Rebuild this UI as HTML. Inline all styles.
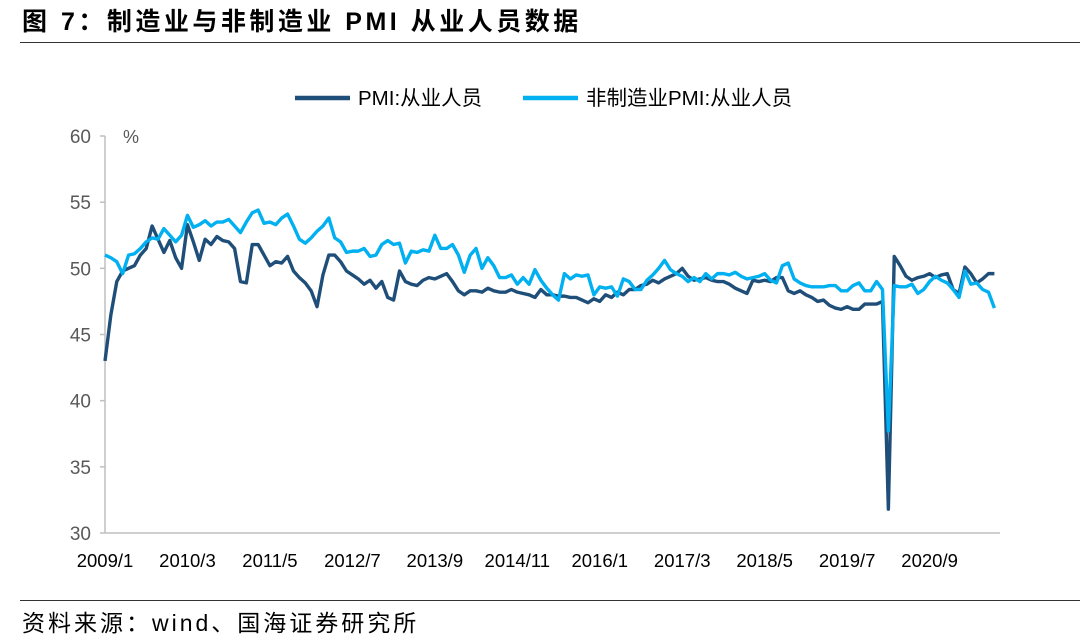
<!DOCTYPE html>
<html><head><meta charset="utf-8">
<style>
body{margin:0;width:1080px;height:637px;background:#fff;overflow:hidden;font-family:"Liberation Sans","Noto Sans CJK SC",sans-serif;}
#title{position:absolute;left:22px;top:2px;font-size:25px;font-weight:bold;color:#000;letter-spacing:3.5px;white-space:nowrap}
#rule{position:absolute;left:20px;top:42px;width:1060px;height:1px;background:#333}
#src-rule{position:absolute;left:20px;top:600px;width:1060px;height:1px;background:#333}
#src{position:absolute;left:22px;top:604px;font-size:23px;color:#000;letter-spacing:3px;white-space:nowrap}
svg{position:absolute;left:0;top:0}
</style></head><body>
<div id="title">图 7：制造业与非制造业 PMI 从业人员数据</div>
<div id="rule"></div>
<svg id="chart" width="1080" height="637"></svg>
<div id="src-rule"></div>
<div id="src">资料来源：wind、国海证券研究所</div>
<script>
const xLabels=["2009/1","2010/3","2011/5","2012/7","2013/9","2014/11","2016/1","2017/3","2018/5","2019/7","2020/9"];
const yTicks=[30,35,40,45,50,55,60];
const seriesNames=["PMI:从业人员","非制造业PMI:从业人员"];
const mfg=[43.0,46.5,49.0,49.8,50.0,50.2,51.0,51.5,53.2,52.2,51.2,52.1,
50.8,50.0,53.3,52.0,50.6,52.2,51.8,52.4,52.1,52.0,51.5,49.0,
48.9,51.8,51.8,51.0,50.2,50.5,50.4,50.9,49.8,49.3,48.9,48.3,
47.1,49.5,51.0,51.0,50.5,49.8,49.5,49.2,48.8,49.1,48.5,49.0,
47.8,47.6,49.8,49.0,48.8,48.7,49.1,49.3,49.2,49.4,49.6,49.0,
48.3,48.0,48.3,48.3,48.2,48.5,48.3,48.2,48.2,48.4,48.2,48.1,
48.0,47.8,48.4,48.0,48.0,47.9,47.9,47.8,47.8,47.6,47.4,47.7,
47.5,48.0,47.8,48.2,48.0,48.4,48.4,48.7,48.8,49.1,48.9,49.2,
49.4,49.6,50.0,49.4,49.1,49.2,49.3,49.1,49.0,49.0,48.8,48.5,
48.3,48.1,49.1,49.0,49.1,49.0,49.3,49.3,48.3,48.1,48.3,48.0,
47.8,47.5,47.6,47.2,47.0,46.9,47.1,46.9,46.9,47.3,47.3,47.3,
47.5,31.8,50.9,50.2,49.4,49.1,49.3,49.4,49.6,49.3,49.5,49.6,
48.4,48.1,50.1,49.6,48.9,49.2,49.6,49.6];
const nonMfg=[51.0,50.8,50.5,49.6,51.0,51.1,51.5,52.0,52.3,52.2,53.0,52.5,
52.0,52.5,54.0,53.1,53.3,53.6,53.2,53.5,53.5,53.7,53.2,52.7,
53.5,54.2,54.4,53.4,53.5,53.3,53.8,54.1,53.2,52.2,51.9,52.3,
52.8,53.2,53.8,52.3,52.0,51.2,51.3,51.3,51.5,50.9,51.0,51.8,
52.1,51.8,51.9,50.4,51.3,51.2,51.4,51.3,52.5,51.5,51.5,51.8,
51.0,49.7,51.0,51.5,50.0,50.8,50.2,49.3,49.3,49.5,48.8,49.3,
48.8,49.9,49.1,48.5,48.0,47.6,49.6,49.2,49.5,49.4,49.5,48.0,
48.6,48.5,48.6,47.9,49.2,49.0,48.4,48.4,49.1,49.5,50.0,50.6,
49.9,49.6,49.4,49.0,49.3,49.0,49.6,49.2,49.6,49.6,49.5,49.7,
49.4,49.2,49.3,49.4,49.6,49.1,48.9,50.2,50.4,49.2,48.9,48.7,
48.6,48.6,48.6,48.7,48.7,48.3,48.3,48.7,48.9,48.3,48.3,49.0,
48.4,37.7,48.7,48.6,48.6,48.8,48.1,48.4,49.0,49.4,49.1,48.9,
48.4,47.8,49.8,48.8,48.9,48.4,48.2,47.0];
const colors=["#1f4e79","#00b0f0"];
const svg=document.getElementById('chart');
const NS="http://www.w3.org/2000/svg";
const X0=105,DX=5.89,Y0=533,Y1=136,VMIN=30,VMAX=60;
const x=i=>X0+i*DX;
const y=v=>Y0-(v-VMIN)/(VMAX-VMIN)*(Y0-Y1);
function mk(t,a){const e=document.createElementNS(NS,t);for(const k in a)e.setAttribute(k,a[k]);svg.appendChild(e);return e;}
const axis=mk('line',{x1:X0,y1:Y1,x2:X0,y2:Y0,stroke:'#bfbfbf','stroke-width':1.5});


const xaxis=mk('line',{x1:X0,y1:Y0,x2:1000,y2:Y0,stroke:'#bfbfbf','stroke-width':1.5});


yTicks.forEach(v=>{
 const tk=mk('line',{x1:X0-5,y1:y(v),x2:X0,y2:y(v),stroke:'#bfbfbf','stroke-width':1.5});
 
 
 const t=mk('text',{x:91,y:y(v)+7,'text-anchor':'end','font-size':19,fill:'#595959'});
 t.textContent=v;
 
 
});
const pct=mk('text',{x:123,y:143,'font-size':18,fill:'#595959'});pct.textContent='%';


xLabels.forEach((l,k)=>{
 const t=mk('text',{x:x(k*14),y:567,'text-anchor':'middle','font-size':18.5,fill:'#000'});
 t.textContent=l;
 
 
});
[mfg,nonMfg].forEach((s,si)=>{
 const p=mk('polyline',{points:s.map((v,i)=>x(i)+','+y(v)).join(' '),fill:'none',stroke:colors[si],'stroke-width':3.4,'stroke-linejoin':'round'});
 
 
});
[[295,358],[523,586]].forEach((pos,si)=>{
 const l=mk('line',{x1:pos[0],y1:98,x2:pos[0]+55,y2:98,stroke:colors[si],'stroke-width':4.5});
 
 
 const t=mk('text',{x:pos[1],y:105,'font-size':20.5,fill:'#000'});
 t.textContent=seriesNames[si];
 
 
});
</script>
</body></html>
